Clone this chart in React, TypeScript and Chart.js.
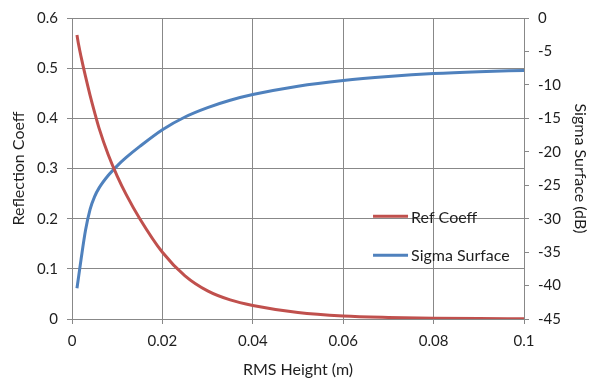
import React, { useEffect, useRef } from "react";
import { Chart, registerables } from "chart.js";
Chart.register(...registerables);

const rmsHeight = [0.0011, 0.0015, 0.002, 0.003, 0.004, 0.005, 0.006, 0.008, 0.01, 0.012, 0.015, 0.02, 0.025, 0.03, 0.035, 0.04, 0.05, 0.06, 0.07, 0.08, 0.09, 0.1];
const refCoeff = [0.566, 0.545, 0.523, 0.483, 0.446, 0.412, 0.38, 0.328, 0.285, 0.248, 0.2, 0.133, 0.086, 0.056, 0.038, 0.027, 0.013, 0.006, 0.003, 0.0015, 0.0008, 0.0005];
const sigmaSurface = [-40.4, -38.5, -36.1, -31.7, -28.6, -26.7, -25.4, -23.55, -22.1, -20.85, -19.2, -16.7, -14.8, -13.4, -12.3, -11.45, -10.2, -9.35, -8.75, -8.3, -8.02, -7.85];

const seriesNames = ["Ref Coeff", "Sigma Surface"];
const seriesColors = ["#C0504D", "#4F81BD"];

const FONT = "Lato";
const TEXT = "#1e1e1e";
const GRID = "#888888";

const fmt = (v: any) => String(parseFloat(Number(v).toFixed(4)));

const legendPlugin = {
  id: "insideLegend",
  afterDraw(chart: any) {
    const { ctx, chartArea } = chart;
    const w = chartArea.right - chartArea.left;
    const h = chartArea.bottom - chartArea.top;
    const x0 = chartArea.left + w * 0.666;
    const lineLen = 35;
    const ys = [chartArea.top + h * 0.659, chartArea.top + h * 0.788];
    ctx.save();
    ctx.font = `16px ${FONT}`;
    ctx.textBaseline = "middle";
    ctx.textAlign = "left";
    seriesNames.forEach((name, i) => {
      ctx.strokeStyle = seriesColors[i];
      ctx.lineWidth = 3;
      ctx.beginPath();
      ctx.moveTo(x0, ys[i]);
      ctx.lineTo(x0 + lineLen, ys[i]);
      ctx.stroke();
      ctx.fillStyle = TEXT;
      ctx.fillText(name, x0 + lineLen + 3, ys[i] + 1);
    });
    ctx.restore();
  },
};

export default function App() {
  const ref = useRef<HTMLCanvasElement>(null);
  useEffect(() => {
    const canvas = ref.current!;
    const chart = new Chart(canvas, {
      type: "line",
      data: {
        datasets: [
          {
            label: seriesNames[0],
            data: rmsHeight.map((x, i) => ({ x, y: refCoeff[i] })),
            borderColor: seriesColors[0],
            borderWidth: 3,
            pointRadius: 0,
            cubicInterpolationMode: "monotone",
            yAxisID: "y",
          },
          {
            label: seriesNames[1],
            data: rmsHeight.map((x, i) => ({ x, y: sigmaSurface[i] })),
            borderColor: seriesColors[1],
            borderWidth: 3,
            pointRadius: 0,
            cubicInterpolationMode: "monotone",
            yAxisID: "y2",
          },
        ],
      },
      options: {
        responsive: false,
        animation: false,
        layout: { padding: { top: 17, left: 0, right: 0, bottom: 0 } },
        plugins: { legend: { display: false }, tooltip: { enabled: false } },
        scales: {
          x: {
            type: "linear",
            min: 0,
            max: 0.1,
            ticks: { stepSize: 0.02, color: TEXT, font: { family: FONT, size: 15 }, padding: 8, callback: fmt },
            grid: { color: GRID, tickLength: 5 },
            border: { color: GRID },
            title: { display: true, text: "RMS Height (m)", color: TEXT, font: { family: FONT, size: 16 }, padding: { top: 0, bottom: 0 } },
            afterFit: (s: any) => { s.height = 60; },
          },
          y: {
            position: "left",
            min: 0,
            max: 0.6,
            ticks: { stepSize: 0.1, color: TEXT, font: { family: FONT, size: 15 }, padding: 9, callback: fmt },
            grid: { color: GRID, tickLength: 5 },
            border: { color: GRID },
            title: { display: true, text: "Reflection Coeff", color: TEXT, font: { family: FONT, size: 16 }, padding: { top: 9, bottom: 0 } },
            afterFit: (s: any) => { s.width = 72; },
          },
          y2: {
            position: "right",
            min: -45,
            max: 0,
            ticks: { stepSize: 5, color: TEXT, font: { family: FONT, size: 15 }, padding: 9 },
            grid: { drawOnChartArea: false, color: GRID, tickLength: 5 },
            border: { color: GRID },
            title: { display: true, text: "Sigma Surface (dB)", color: TEXT, font: { family: FONT, size: 16 }, padding: { top: 1, bottom: 0 } },
            afterFit: (s: any) => { s.width = 67; },
          },
        },
      },
      plugins: [legendPlugin],
    } as any);
    return () => chart.destroy();
  }, []);
  return (
    <div style={{ position: "fixed", left: 0, top: 0, width: 591, height: 379, background: "#fff" }}>
      <canvas ref={ref} width={591} height={379} style={{ width: 591, height: 379 }} />
    </div>
  );
}
